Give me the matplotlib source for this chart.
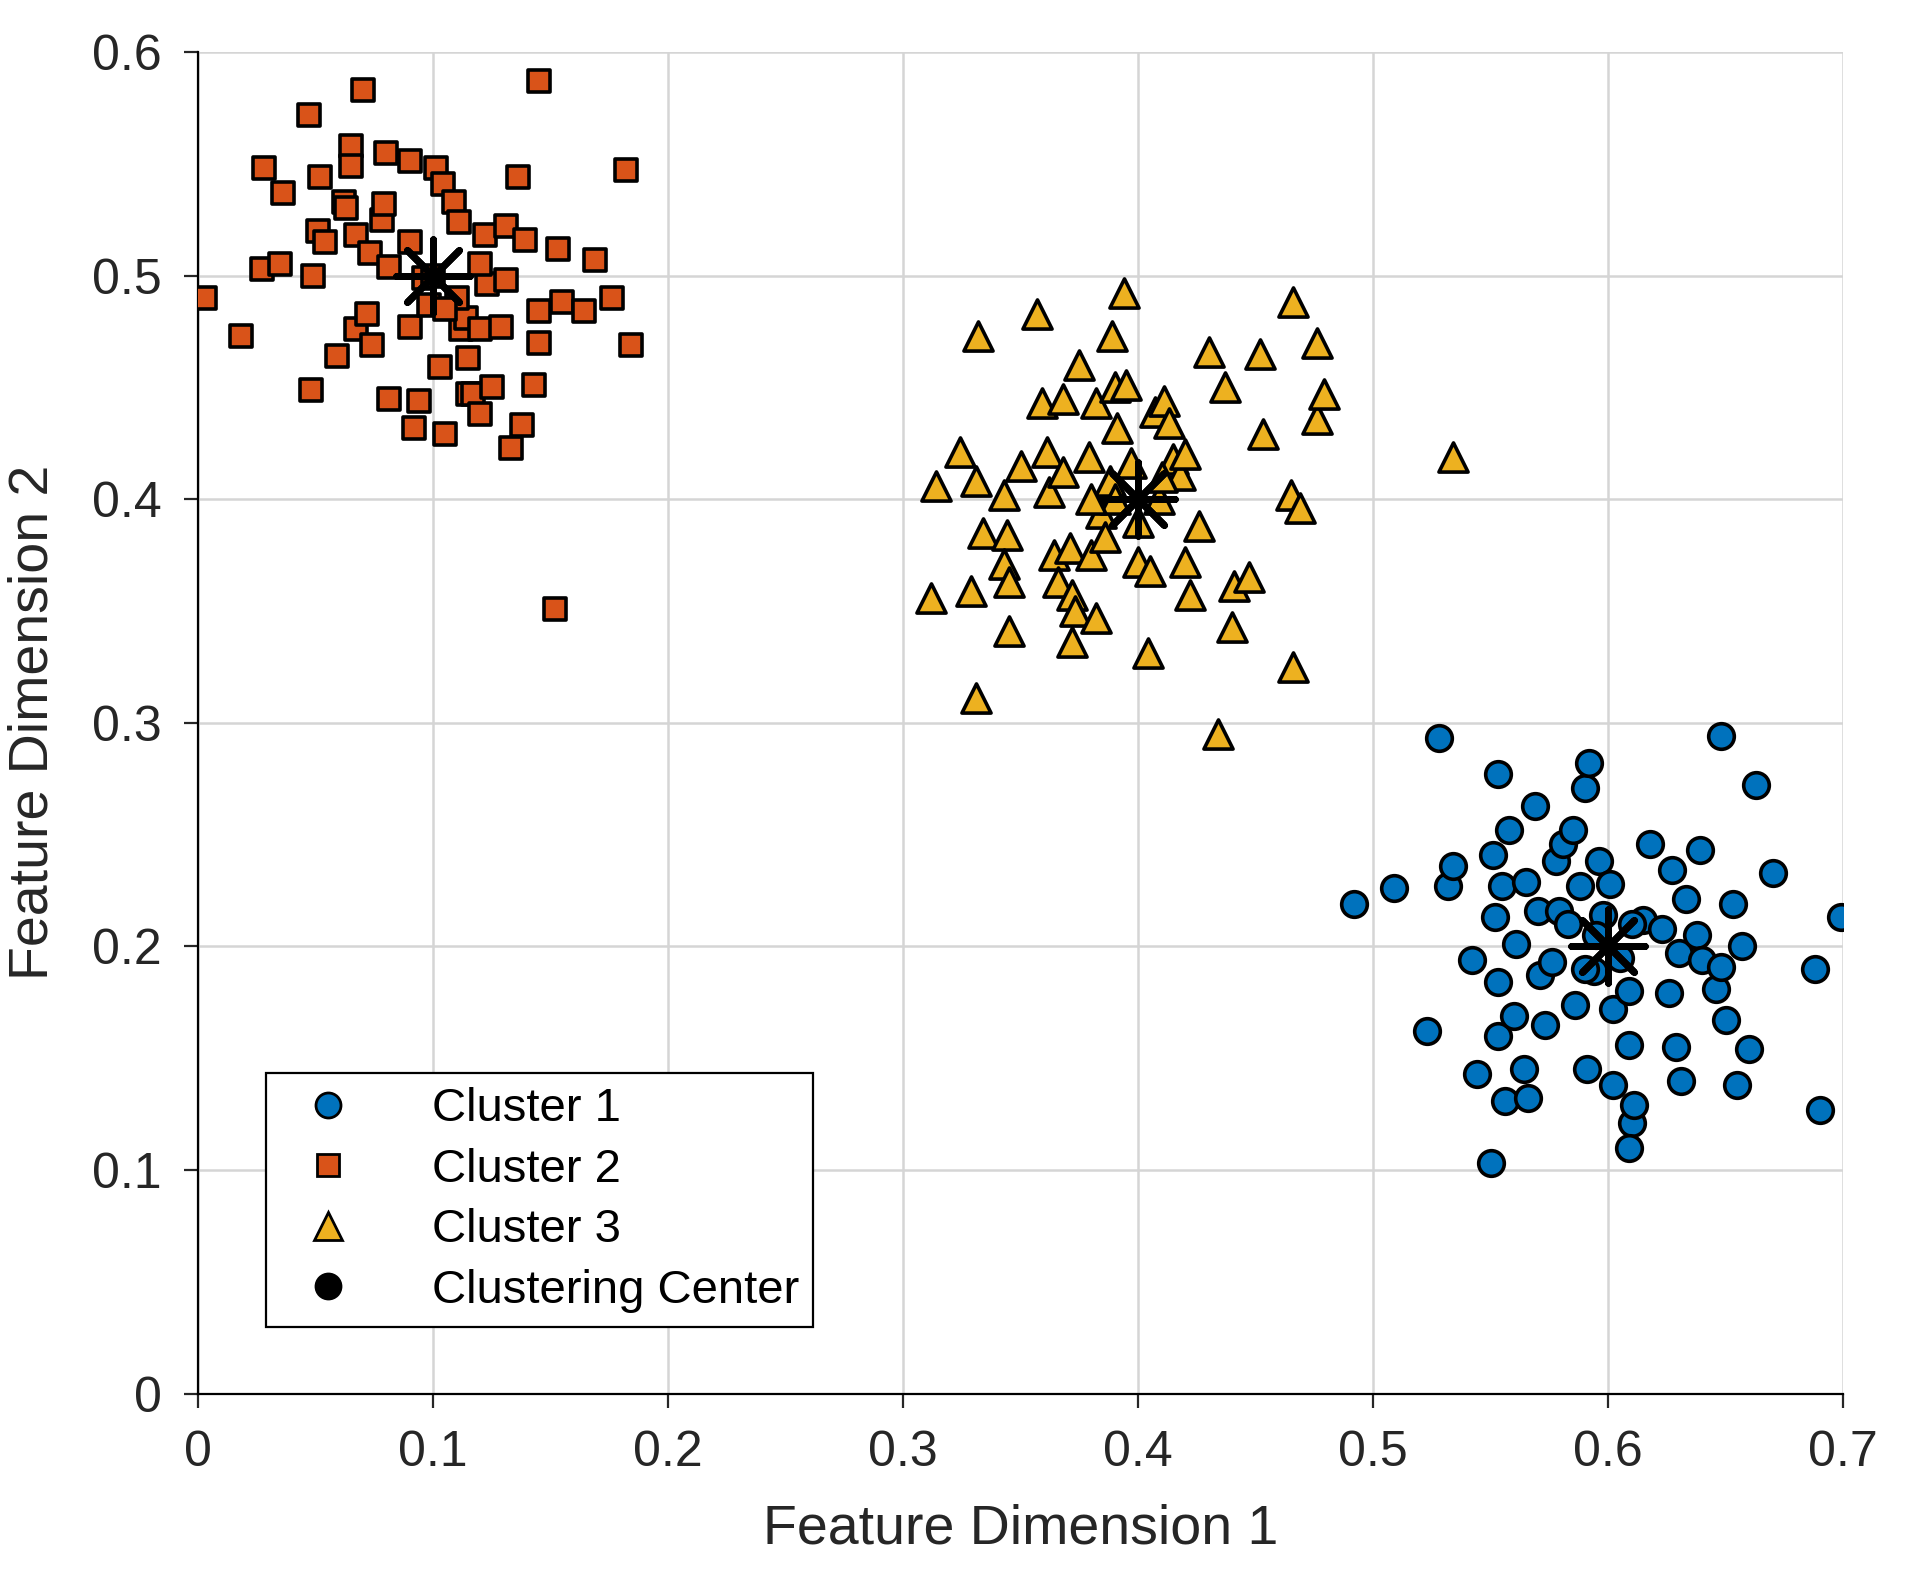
import matplotlib.pyplot as plt
from matplotlib.lines import Line2D

plt.rcParams['font.family'] = ['Liberation Sans', 'DejaVu Sans']

# Cluster 1 (circles)
c1_x = [0.492, 0.509, 0.523, 0.528, 0.532, 0.534, 0.542, 0.544, 0.550, 0.551, 0.553, 0.552, 0.553, 0.555,
        0.553, 0.556, 0.558, 0.560, 0.561, 0.564, 0.565, 0.566, 0.569, 0.570, 0.571, 0.573, 0.576, 0.578,
        0.579, 0.581, 0.583, 0.585, 0.586, 0.588, 0.590, 0.592, 0.591, 0.594, 0.596, 0.598, 0.601, 0.602,
        0.602, 0.609, 0.609, 0.610, 0.609, 0.611, 0.615, 0.618, 0.623, 0.626, 0.627, 0.629, 0.630, 0.631,
        0.633, 0.638, 0.639, 0.640, 0.646, 0.648, 0.648, 0.650, 0.653, 0.655, 0.657, 0.660, 0.663, 0.670,
        0.688, 0.690, 0.699, 0.595, 0.605, 0.590, 0.610]
c1_y = [0.219, 0.226, 0.162, 0.293, 0.227, 0.236, 0.194, 0.143, 0.103, 0.241, 0.184, 0.213, 0.277, 0.227,
        0.160, 0.131, 0.252, 0.169, 0.201, 0.145, 0.229, 0.132, 0.263, 0.216, 0.187, 0.165, 0.193, 0.238,
        0.216, 0.246, 0.210, 0.252, 0.174, 0.227, 0.271, 0.282, 0.145, 0.189, 0.238, 0.214, 0.228, 0.172,
        0.138, 0.156, 0.180, 0.121, 0.110, 0.129, 0.212, 0.246, 0.208, 0.179, 0.234, 0.155, 0.197, 0.140,
        0.221, 0.205, 0.243, 0.194, 0.181, 0.191, 0.294, 0.167, 0.219, 0.138, 0.200, 0.154, 0.272, 0.233,
        0.190, 0.127, 0.213, 0.205, 0.195, 0.190, 0.210]

# Cluster 2 (squares)
c2_x = [0.003, 0.018, 0.028, 0.027, 0.036, 0.035, 0.047, 0.049, 0.048, 0.052, 0.051, 0.054, 0.059, 0.062,
        0.063, 0.065, 0.065, 0.067, 0.070, 0.067, 0.072, 0.073, 0.074, 0.078, 0.079, 0.080, 0.081, 0.081,
        0.090, 0.090, 0.092, 0.094, 0.096, 0.098, 0.101, 0.103, 0.104, 0.105, 0.109, 0.111, 0.112, 0.114,
        0.115, 0.115, 0.117, 0.120, 0.120, 0.122, 0.123, 0.125, 0.129, 0.131, 0.131, 0.133, 0.136, 0.138,
        0.139, 0.143, 0.145, 0.145, 0.145, 0.152, 0.153, 0.155, 0.164, 0.169, 0.176, 0.182, 0.184, 0.100,
        0.110, 0.120, 0.090, 0.105]
c2_y = [0.490, 0.473, 0.548, 0.503, 0.537, 0.505, 0.572, 0.500, 0.449, 0.544, 0.520, 0.515, 0.464, 0.533,
        0.530, 0.558, 0.549, 0.518, 0.583, 0.476, 0.483, 0.510, 0.469, 0.525, 0.532, 0.555, 0.445, 0.504,
        0.551, 0.477, 0.432, 0.444, 0.499, 0.487, 0.548, 0.459, 0.541, 0.429, 0.533, 0.524, 0.476, 0.481,
        0.463, 0.447, 0.447, 0.438, 0.476, 0.518, 0.496, 0.450, 0.477, 0.498, 0.522, 0.423, 0.544, 0.433,
        0.516, 0.451, 0.470, 0.484, 0.587, 0.351, 0.512, 0.488, 0.484, 0.507, 0.490, 0.547, 0.469, 0.500,
        0.490, 0.505, 0.515, 0.485]

# Cluster 3 (triangles)
c3_x = [0.312, 0.314, 0.324, 0.329, 0.331, 0.332, 0.331, 0.334, 0.343, 0.344, 0.343, 0.345, 0.345, 0.350,
        0.357, 0.359, 0.361, 0.362, 0.364, 0.366, 0.368, 0.368, 0.371, 0.372, 0.373, 0.372, 0.375, 0.379,
        0.380, 0.382, 0.382, 0.384, 0.386, 0.388, 0.389, 0.390, 0.391, 0.394, 0.395, 0.397, 0.400, 0.404,
        0.405, 0.407, 0.409, 0.411, 0.413, 0.415, 0.418, 0.420, 0.422, 0.426, 0.430, 0.434, 0.437, 0.440,
        0.441, 0.447, 0.452, 0.453, 0.465, 0.466, 0.466, 0.469, 0.476, 0.476, 0.479, 0.534, 0.390, 0.410,
        0.400, 0.380, 0.420]
c3_y = [0.356, 0.406, 0.421, 0.359, 0.311, 0.473, 0.408, 0.385, 0.402, 0.384, 0.371, 0.363, 0.341, 0.415,
        0.483, 0.443, 0.421, 0.403, 0.375, 0.363, 0.445, 0.412, 0.378, 0.357, 0.350, 0.336, 0.460, 0.419,
        0.375, 0.443, 0.347, 0.394, 0.383, 0.408, 0.473, 0.450, 0.432, 0.492, 0.451, 0.416, 0.372, 0.331,
        0.368, 0.439, 0.400, 0.444, 0.434, 0.418, 0.411, 0.372, 0.357, 0.388, 0.466, 0.295, 0.450, 0.343,
        0.361, 0.365, 0.465, 0.429, 0.402, 0.488, 0.325, 0.396, 0.470, 0.436, 0.447, 0.419, 0.400, 0.410,
        0.390, 0.400, 0.420]

centers_x = [0.1, 0.4, 0.6]
centers_y = [0.5, 0.4, 0.2]

fig = plt.figure(figsize=(9.53, 7.865), dpi=200)
ax = fig.add_axes([0.104, 0.114, 0.863, 0.853])

ax.scatter(c1_x, c1_y, s=85, marker='o', c='#0072BD', edgecolors='black', linewidths=1.3,
           label='Cluster 1', zorder=3)
ax.scatter(c2_x, c2_y, s=68, marker='s', c='#D95319', edgecolors='black', linewidths=1.3,
           label='Cluster 2', zorder=3)
ax.scatter(c3_x, c3_y, s=110, marker='^', c='#EDB120', edgecolors='black', linewidths=1.3,
           label='Cluster 3', zorder=3)
ax.scatter(centers_x, centers_y, s=700, marker=(8, 2, 0), c='black', linewidths=2.5, zorder=4)

ax.set_xlim(0, 0.7)
ax.set_ylim(0, 0.6)
ax.set_xticks([0, 0.1, 0.2, 0.3, 0.4, 0.5, 0.6, 0.7])
ax.set_xticklabels(['0', '0.1', '0.2', '0.3', '0.4', '0.5', '0.6', '0.7'])
ax.set_yticks([0, 0.1, 0.2, 0.3, 0.4, 0.5, 0.6])
ax.set_yticklabels(['0', '0.1', '0.2', '0.3', '0.4', '0.5', '0.6'])
ax.tick_params(labelsize=18, direction='out', length=5, pad=8, colors='#262626')
ax.grid(True, color='#d5d5d5', linewidth=0.9)
ax.set_axisbelow(True)
ax.set_xlabel('Feature Dimension 1', fontsize=20, color='#262626', labelpad=10)
ax.set_ylabel('Feature Dimension 2', fontsize=20, color='#262626', labelpad=12)
for s in ['top', 'right']:
    ax.spines[s].set_visible(False)

handles = [
    Line2D([], [], marker='o', ls='none', mfc='#0072BD', mec='black', ms=9),
    Line2D([], [], marker='s', ls='none', mfc='#D95319', mec='black', ms=8),
    Line2D([], [], marker='^', ls='none', mfc='#EDB120', mec='black', ms=10),
    Line2D([], [], marker='o', ls='none', mfc='black', mec='black', ms=9),
]
leg = ax.legend(handles, ['Cluster 1', 'Cluster 2', 'Cluster 3', 'Clustering Center'],
                loc='lower left', bbox_to_anchor=(0.027, 0.032), fontsize=17, fancybox=False,
                edgecolor='black', framealpha=1, handletextpad=1.2, borderpad=0.3, labelspacing=0.35)
leg.get_frame().set_linewidth(0.8)

fig.savefig('out.png')
